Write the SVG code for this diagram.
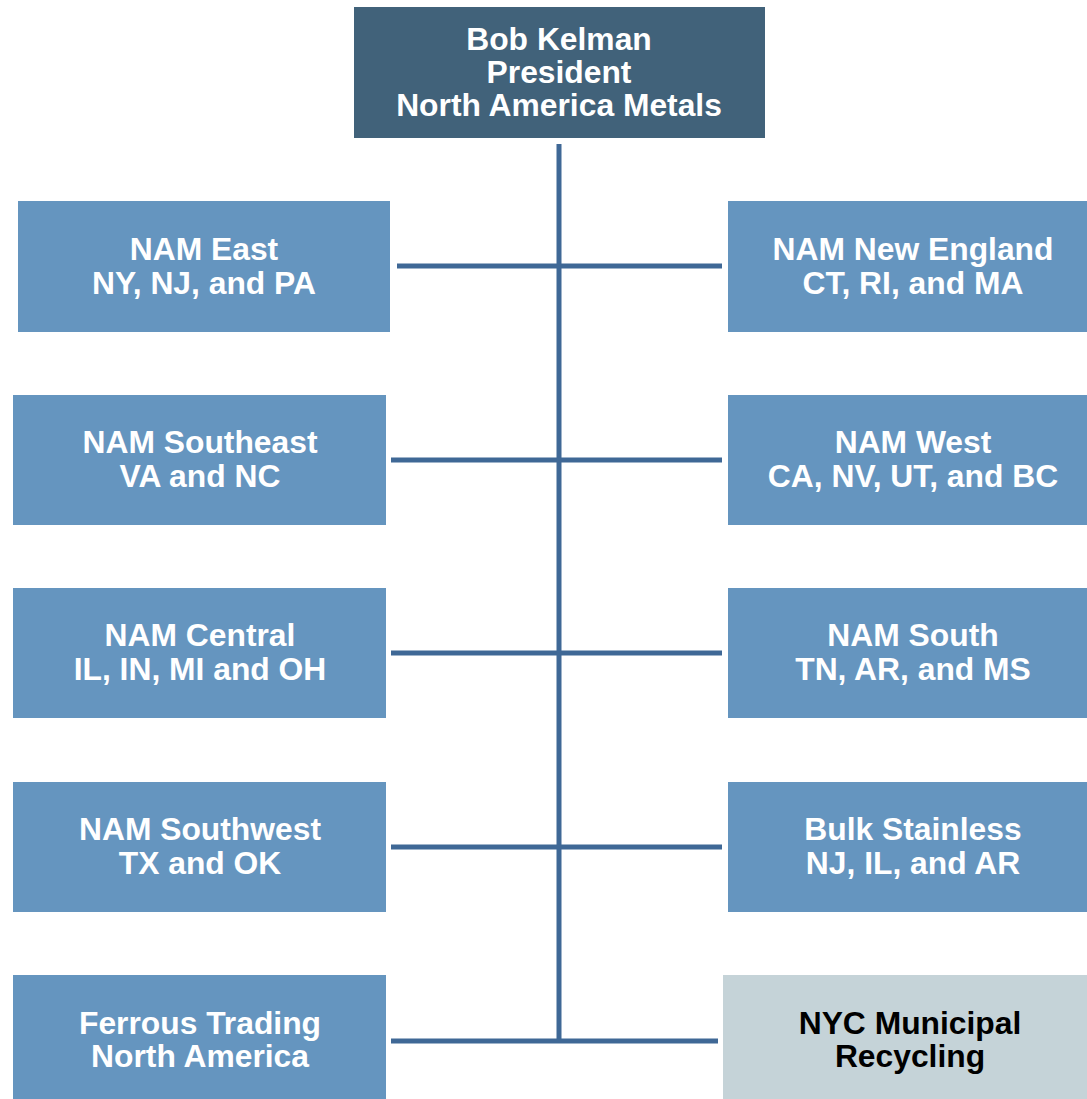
<svg xmlns="http://www.w3.org/2000/svg" width="1087" height="1099" viewBox="0 0 1087 1099">
<style>
.top{fill:#41627a}
.box{fill:#6595bf}
.grey{fill:#c5d3d8}
text{font-family:"Liberation Sans",Arial,sans-serif;font-weight:bold;font-size:31.8px;text-anchor:middle;fill:#ffffff}
.dark{fill:#000000}
.ln{stroke:#3f6896;stroke-width:5;fill:none}
</style>
<rect width="1087" height="1099" fill="#ffffff"/>
<g id="connectors">
<line class="ln" x1="559" y1="144" x2="559" y2="1043"/>
<line class="ln" x1="397" y1="266" x2="722" y2="266"/>
<line class="ln" x1="391" y1="460" x2="722" y2="460"/>
<line class="ln" x1="391" y1="653" x2="722" y2="653"/>
<line class="ln" x1="391" y1="847" x2="722" y2="847"/>
<line class="ln" x1="391" y1="1041" x2="718" y2="1041"/>
</g>
<g id="president">
<rect class="top" x="354" y="7" width="411" height="131"/>
<text x="559" y="50">Bob Kelman</text>
<text x="559" y="83">President</text>
<text x="559" y="116">North America Metals</text>
</g>
<g id="nam-east">
<rect class="box" x="18" y="201" width="372" height="131"/>
<text x="204" y="260">NAM East</text>
<text x="204" y="294">NY, NJ, and PA</text>
</g>
<g id="nam-new-england">
<rect class="box" x="728" y="201" width="370" height="131"/>
<text x="913" y="260">NAM New England</text>
<text x="913" y="294">CT, RI, and MA</text>
</g>
<g id="nam-southeast">
<rect class="box" x="13" y="395" width="373" height="130"/>
<text x="200" y="453">NAM Southeast</text>
<text x="200" y="487">VA and NC</text>
</g>
<g id="nam-west">
<rect class="box" x="728" y="395" width="370" height="130"/>
<text x="913" y="453">NAM West</text>
<text x="913" y="487">CA, NV, UT, and BC</text>
</g>
<g id="nam-central">
<rect class="box" x="13" y="588" width="373" height="130"/>
<text x="200" y="646">NAM Central</text>
<text x="200" y="680">IL, IN, MI and OH</text>
</g>
<g id="nam-south">
<rect class="box" x="728" y="588" width="370" height="130"/>
<text x="913" y="646">NAM South</text>
<text x="913" y="680">TN, AR, and MS</text>
</g>
<g id="nam-southwest">
<rect class="box" x="13" y="782" width="373" height="130"/>
<text x="200" y="840">NAM Southwest</text>
<text x="200" y="874">TX and OK</text>
</g>
<g id="bulk-stainless">
<rect class="box" x="728" y="782" width="370" height="130"/>
<text x="913" y="840">Bulk Stainless</text>
<text x="913" y="874">NJ, IL, and AR</text>
</g>
<g id="ferrous-trading">
<rect class="box" x="13" y="975" width="373" height="130"/>
<text x="200" y="1034">Ferrous Trading</text>
<text x="200" y="1067">North America</text>
</g>
<g id="nyc-recycling">
<rect class="grey" x="723" y="975" width="375" height="130"/>
<text class="dark" x="910" y="1034">NYC Municipal</text>
<text class="dark" x="910" y="1067">Recycling</text>
</g>
</svg>
